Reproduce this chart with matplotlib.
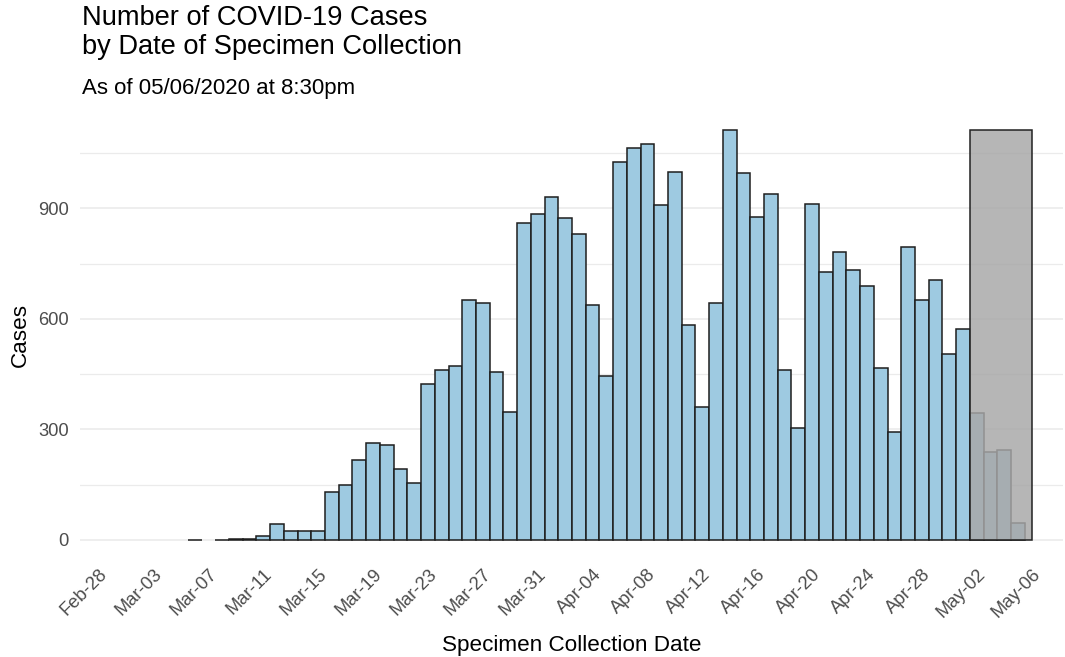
import numpy as np
import pandas as pd
import matplotlib
matplotlib.use('Agg')
import matplotlib.pyplot as plt
import matplotlib.dates as mdates
from matplotlib.patches import Rectangle

plt.rcParams['font.family'] = ['Liberation Sans', 'DejaVu Sans']

# daily cases by specimen collection date, Mar 06 - May 05 2020
dates = pd.date_range('2020-03-06', '2020-05-05', freq='D')
cases = np.array([
    1, 0, 1, 4, 4, 10, 43, 25, 25, 25,
    131, 149, 217, 262, 258, 192, 154, 424, 462, 471,
    652, 644, 457, 347, 860, 884,
    931, 873, 830, 639, 445, 1025, 1063, 1076, 910, 999,
    584, 360, 644, 1113, 995, 876, 939, 462, 305, 913,
    728, 783, 732, 690, 467, 292, 796, 652, 707, 504,
    572, 344, 238, 243, 47,
])

# period where recent counts are still incomplete
shade_start = pd.Timestamp('2020-05-01 12:00')
shade_end = pd.Timestamp('2020-05-06')

tick_dates = pd.date_range('2020-02-28', '2020-05-06', freq='4D')
y_major = [0, 300, 600, 900]
y_minor = [150, 450, 750, 1050]

fig = plt.figure(figsize=(10.65, 6.57), dpi=100)
ax = fig.add_axes([80 / 1065, 1 - 560.5 / 657, 983 / 1065, 451 / 657])

# skip empty days so no outline is drawn for them
keep = cases > 0
ax.bar(dates[keep], cases[keep], width=1.0, color='#9ECAE1',
       edgecolor='#1E1E1E', linewidth=1.1, zorder=2)

x0 = mdates.date2num(shade_start)
x1 = mdates.date2num(shade_end)
ax.add_patch(Rectangle((x0, 0), x1 - x0, cases.max(),
                       facecolor=(0.66, 0.66, 0.66, 0.84),
                       edgecolor='#222222', linewidth=1.1, zorder=3))

t0 = mdates.date2num(tick_dates[0])
ax.set_xlim(t0 - 1.36, t0 + 70.29)
ax.set_ylim(-0.05 * cases.max(), 1.05 * cases.max())

ax.set_xticks(tick_dates)
ax.set_xticklabels([d.strftime('%b-%d') for d in tick_dates],
                   rotation=45, ha='right', rotation_mode='anchor')
ax.set_yticks(y_major)
ax.set_yticks(y_minor, minor=True)
ax.set_yticklabels([str(v) for v in y_major])

ax.tick_params(axis='both', which='both', length=0, labelsize=13.2,
               labelcolor='#4D4D4D')
ax.tick_params(axis='x', pad=4)
ax.tick_params(axis='y', pad=8)

ax.grid(axis='y', which='major', color='#EBEBEB', linewidth=1.2, zorder=0)
ax.grid(axis='y', which='minor', color='#EBEBEB', linewidth=0.9, zorder=0)
ax.grid(axis='x', visible=False)
for s in ax.spines.values():
    s.set_visible(False)

ax.set_xlabel('Specimen Collection Date', fontsize=16.2, labelpad=10)
ax.set_ylabel('Cases', fontsize=16.2, labelpad=5)

fig.text(82 / 1065, 1 - 5 / 657, 'Number of COVID-19 Cases\nby Date of Specimen Collection',
         fontsize=19.6, ha='left', va='top', linespacing=1.15)
fig.text(82 / 1065, 1 - 94 / 657, 'As of 05/06/2020 at 8:30pm',
         fontsize=16, ha='left', va='baseline')

fig.savefig('out.png', dpi=100)
